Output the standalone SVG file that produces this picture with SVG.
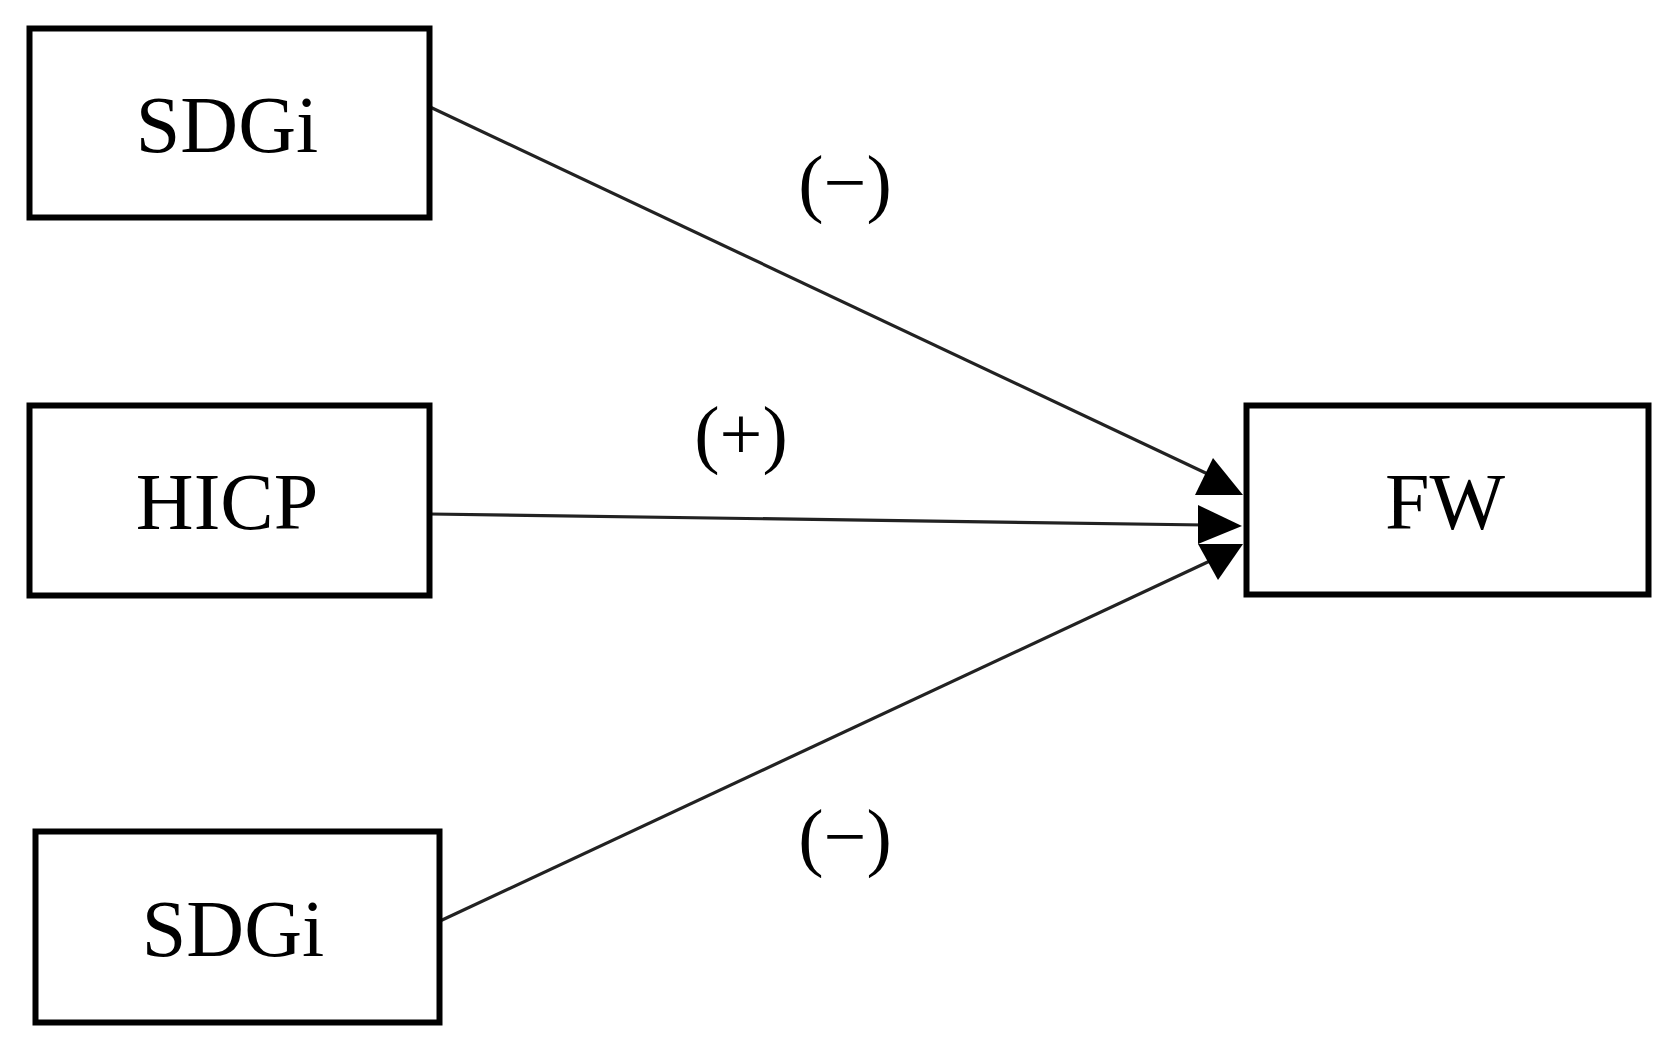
<svg xmlns="http://www.w3.org/2000/svg" width="1669" height="1043" viewBox="0 0 1669 1043">
<style>
.box{fill:#fff;stroke:#000;stroke-width:6}
.lbl{font-family:"Liberation Serif","Times New Roman",serif;font-size:80px;fill:#000;text-anchor:middle}
.sign{font-family:"Liberation Serif","Times New Roman",serif;font-size:76px;fill:#000;text-anchor:middle}
.edge{stroke:#222;stroke-width:3.2;fill:none}
.head{fill:#000}
</style>
<rect width="1669" height="1043" fill="#fff"/>
<g id="connectors">
<line class="edge" x1="430" y1="107" x2="1212" y2="476"/>
<polygon class="head" points="1213,458 1195,495 1243,495"/>
<line class="edge" x1="430" y1="514" x2="1205" y2="525"/>
<polygon class="head" points="1198,505 1242,526 1198,544"/>
<line class="edge" x1="440" y1="921" x2="1212" y2="560"/>
<polygon class="head" points="1198,544 1243,544 1218,580"/>
<text class="sign" x="845" y="208">(−)</text>
<text class="sign" x="741" y="459">(+)</text>
<text class="sign" x="845" y="862">(−)</text>
</g>
<g id="node-sdgi-top">
<rect class="box" x="29.5" y="28.5" width="400" height="189"/>
<text class="lbl" x="227" y="152">SDGi</text>
</g>
<g id="node-hicp">
<rect class="box" x="29.5" y="405.5" width="400" height="190"/>
<text class="lbl" x="227" y="529">HICP</text>
</g>
<g id="node-sdgi-bottom">
<rect class="box" x="35.5" y="831.5" width="404" height="191"/>
<text class="lbl" x="233" y="956">SDGi</text>
</g>
<g id="node-fw">
<rect class="box" x="1246.5" y="405.5" width="402" height="189"/>
<text class="lbl" x="1445" y="529">FW</text>
</g>
</svg>
